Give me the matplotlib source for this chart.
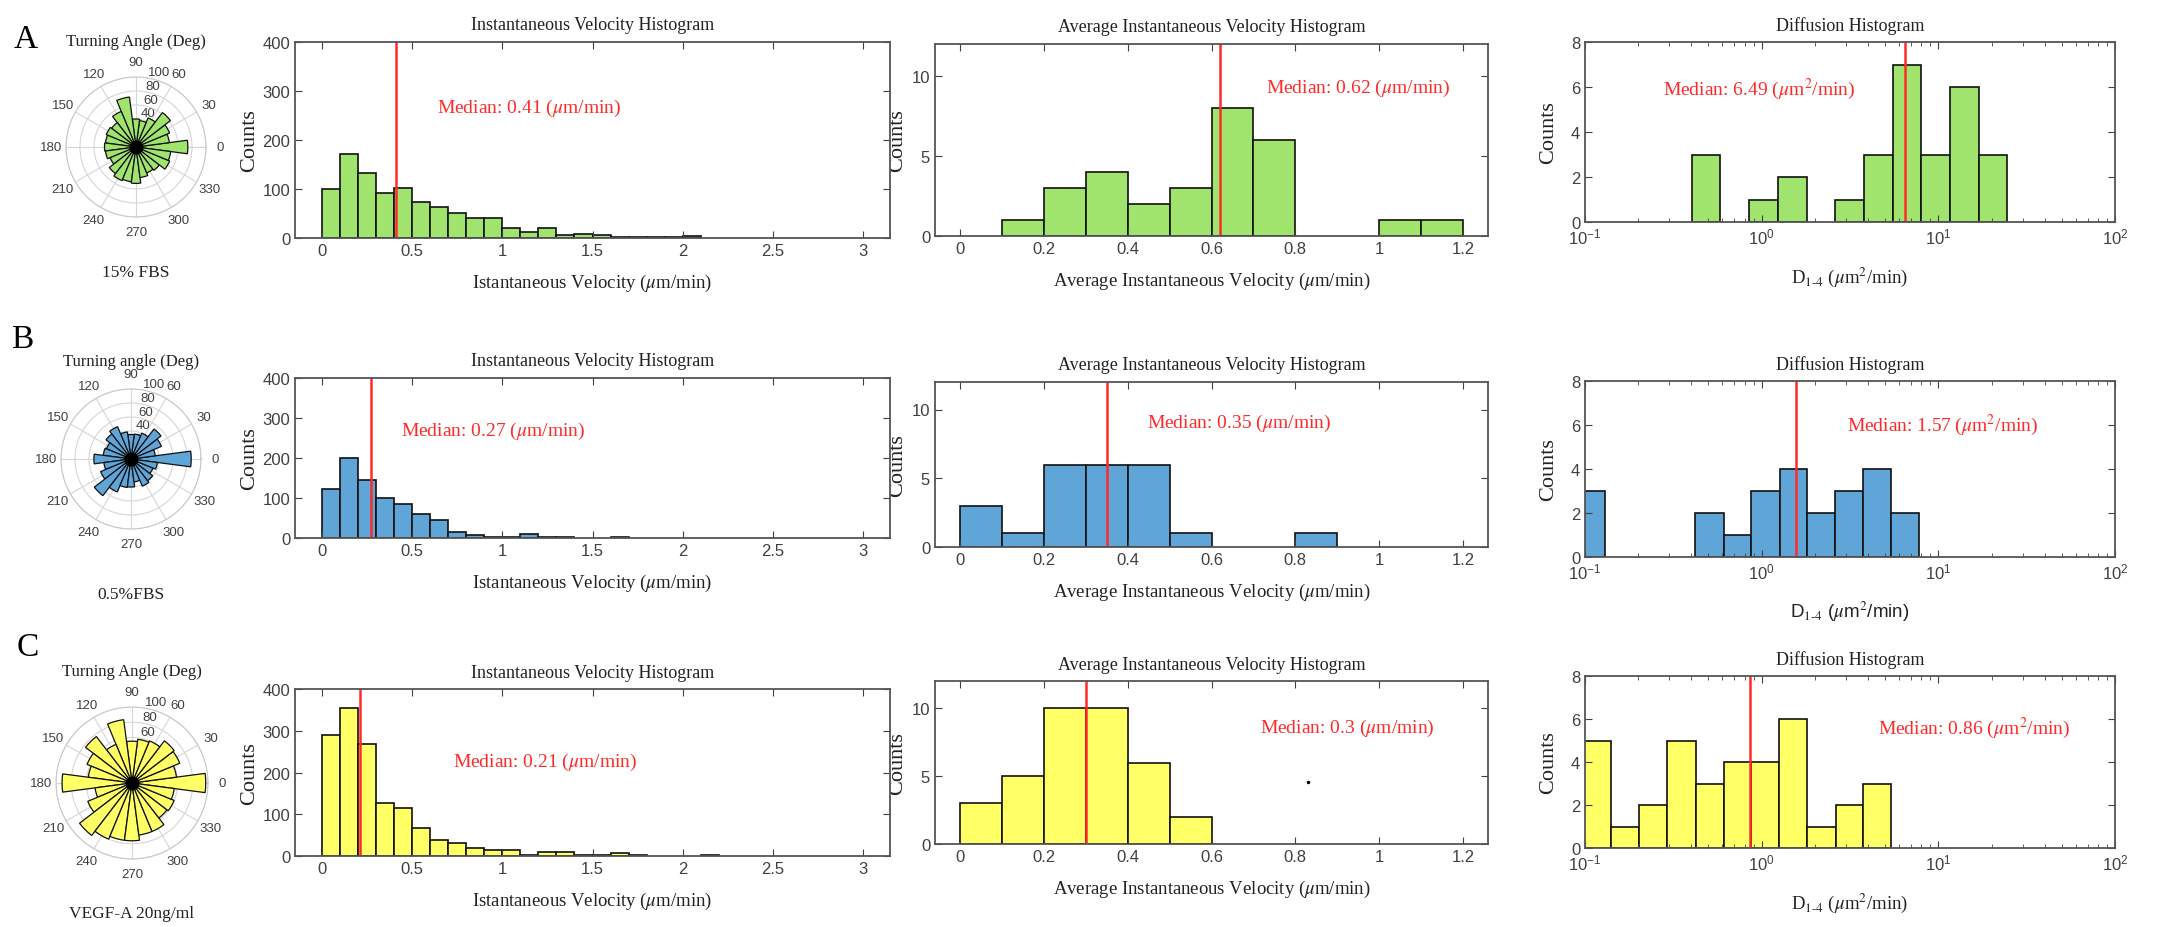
import numpy as np
import matplotlib.pyplot as plt
from matplotlib.transforms import offset_copy
from matplotlib.ticker import FormatStrFormatter

plt.rcParams['font.family'] = ['Liberation Serif', 'DejaVu Serif']
plt.rcParams['mathtext.fontset'] = 'stix'

# ---- data ----
turn_angles = [0, 15, 30, 45, 60, 75, 90, 105, 120, 135, 150, 165,
               180, 195, 210, 225, 240, 255, 270, 285, 300, 315, 330, 345]
turn_A = [74, 48, 52, 62, 45, 38, 40, 72, 55, 44, 46, 44,
          45, 44, 40, 48, 52, 50, 52, 44, 40, 42, 52, 50]
turn_B = [86, 35, 47, 54, 40, 36, 35, 39, 50, 45, 38, 40,
          53, 39, 47, 66, 51, 41, 40, 33, 42, 39, 34, 38]
turn_C = [97, 59, 68, 70, 60, 58, 55, 84, 55, 77, 64, 58,
          92, 49, 63, 87, 80, 76, 76, 69, 69, 58, 60, 56]

vel_edges = [0.0, 0.1, 0.2, 0.3, 0.4, 0.5, 0.6, 0.7, 0.8, 0.9, 1.0, 1.1,
             1.2, 1.3, 1.4, 1.5, 1.6, 1.7, 1.8, 1.9, 2.0, 2.1, 2.2]
vel_A = [100, 172, 133, 92, 102, 73, 64, 52, 40, 40, 21, 13,
         21, 6, 9, 6, 2, 2, 2, 2, 5, 0]
vel_B = [122, 199, 145, 101, 85, 59, 45, 16, 8, 3, 3, 11,
         2, 2, 0, 0, 2, 0, 0, 0, 0, 0]
vel_C = [289, 355, 269, 128, 116, 68, 38, 30, 20, 14, 14, 3,
         10, 10, 3, 3, 6, 3, 0, 0, 0, 3]

avg_edges = [0.0, 0.1, 0.2, 0.3, 0.4, 0.5, 0.6, 0.7, 0.8, 0.9, 1.0, 1.1, 1.2]
avg_A = [0, 1, 3, 4, 2, 3, 8, 6, 0, 0, 1, 1]
avg_B = [3, 1, 6, 6, 6, 1, 0, 0, 1, 0, 0, 0]
avg_C = [3, 5, 10, 10, 6, 2, 0, 0, 0, 0, 0, 0]

dif_edges_A = [0.402, 0.584, 0.849, 1.234, 1.795, 2.609, 3.793, 5.513,
               8.017, 11.65, 16.94, 24.63]
dif_A = [3, 0, 1, 2, 0, 1, 3, 7, 3, 6, 3]
dif_edges_B = [0.0984, 0.13, 0.2037, 0.2931, 0.4217, 0.6095, 0.873,
               1.262, 1.816, 2.600, 3.758, 5.408, 7.780]
dif_B = [3, 0, 0, 0, 2, 1, 3, 4, 2, 3, 4, 2]
dif_edges_C = [0.0977, 0.1409, 0.2028, 0.2924, 0.4227, 0.6095, 0.869,
               1.253, 1.816, 2.618, 3.758, 5.420]
dif_C = [5, 1, 2, 5, 3, 4, 4, 6, 1, 2, 3]

medians_vel = [0.41, 0.27, 0.21]
medians_avg = [0.62, 0.35, 0.3]
medians_dif = [6.49, 1.57, 0.86]

green = '#a0e46e'
blue = '#5fa5d8'
yellow = '#ffff66'
red = '#ff2a2a'
gray = '#404040'

W, H = 2165, 928
fig = plt.figure(figsize=(W / 100, H / 100), dpi=100)


def box(l, t, r, b):
    return [l / W, 1 - b / H, (r - l) / W, (b - t) / H]


def rose(cx, cy, r, lengths, color, title, sub, tag, tag_xy, title_y, sub_y):
    ax = fig.add_axes(box(cx - r, cy - r, cx + r, cy + r), projection='polar')
    ax.bar(np.deg2rad(turn_angles), lengths, width=np.deg2rad(15),
           color=color, edgecolor='#111111', linewidth=0.9, zorder=2)
    ax.set_ylim(0, 100)
    ax.set_rticks([20, 40, 60, 80, 100])
    ax.set_rlabel_position(80)
    ax.set_thetagrids(range(0, 360, 30), [str(a) for a in range(0, 360, 30)])
    ax.tick_params(labelsize=9.5, labelcolor=gray, labelfontfamily='Liberation Sans', pad=0)
    ax.grid(color='#d6d6d6', lw=0.8)
    ax.spines['polar'].set_color('#c8c8c8')
    ax.plot(0, 0, 'o', color='k', ms=9, zorder=3)
    fig.text(cx / W, 1 - title_y / H, title, ha='center', va='center', fontsize=12, color='#222222')
    fig.text(cx / W, 1 - sub_y / H, sub, ha='center', va='center', fontsize=12.5, color='#222222')
    fig.text(tag_xy[0] / W, 1 - tag_xy[1] / H, tag, ha='center', va='center', fontsize=24, color='k')


def hist(l, t, r, b, edges, counts, color, xlim, ylim, yticks, med, txt_xy, txt,
         title, xlabel, ylab_dx, logx=False, xlab_dy=44, xfont='Liberation Serif'):
    ax = fig.add_axes(box(l, t, r, b))
    e = np.array(edges)
    c = np.array(counts)
    keep = c > 0
    ax.bar(e[:-1][keep], c[keep], width=np.diff(e)[keep], align='edge',
           color=color, edgecolor='#111111', linewidth=1.2)
    if logx:
        ax.set_xscale('log')
    else:
        ax.xaxis.set_major_formatter(FormatStrFormatter('%g'))
    ax.set_xlim(xlim)
    ax.set_ylim(ylim)
    ax.set_yticks(yticks)
    ax.axvline(med, color=red, lw=1.8)
    ax.text(txt_xy[0], txt_xy[1], txt, color=red, fontsize=14, va='center', ha='left')
    ax.tick_params(which='both', direction='in', top=True, right=True, labelsize=12,
                   labelcolor=gray, color=gray, labelfontfamily='Liberation Sans')
    ax.tick_params(which='major', length=5)
    ax.tick_params(which='minor', length=3)
    for s in ax.spines.values():
        s.set_color('#555555')
        s.set_linewidth(1.3)
    tr_top = offset_copy(ax.transAxes, fig, x=0, y=17, units='dots')
    ax.text(0.5, 1, title, transform=tr_top, ha='center', va='center', fontsize=13, color='#222222')
    tr_bot = offset_copy(ax.transAxes, fig, x=0, y=-xlab_dy, units='dots')
    ax.text(0.5, 0, xlabel, transform=tr_bot, ha='center', va='center', fontsize=13.5,
            color='#222222', family=xfont)
    tr_left = offset_copy(ax.transAxes, fig, x=-ylab_dx, y=0, units='dots')
    ax.text(0, 0.5, 'Counts', transform=tr_left, ha='center', va='center', rotation=90,
            fontsize=16, color='#222222')
    return ax


# ---- polar (turning angle) ----
rose(136, 148, 70, turn_A, green, 'Turning Angle (Deg)', '15% FBS', 'A', (26, 40), 42, 273)
rose(131, 460, 70, turn_B, blue, 'Turning angle (Deg)', '0.5%FBS', 'B', (22, 340), 362, 595)
rose(132, 784, 76, turn_C, yellow, 'Turning Angle (Deg)', 'VEGF-A 20ng/ml', 'C', (28, 648), 672, 914)

# ---- histograms ----
rows = [(43, 239, 45, 237, 43, 223), (379, 539, 383, 548, 382, 558), (690, 857, 682, 845, 677, 849)]
vels = [vel_A, vel_B, vel_C]
avgs = [avg_A, avg_B, avg_C]
difs = [(dif_edges_A, dif_A), (dif_edges_B, dif_B), (dif_edges_C, dif_C)]
colors = [green, blue, yellow]
vel_txt = [(0.64, 266), (0.44, 268), (0.725, 226)]
avg_txt = [(0.73, 9.3), (0.447, 9.04), (0.715, 8.6)]
dif_txt = [(0.276, 5.92), (3.03, 6.04), (4.54, 5.59)]

for i in range(3):
    t1, b1, t2, b2, t3, b3 = rows[i]
    ax1 = hist(295, t1, 890, b1, vel_edges, vels[i], colors[i], (-0.15, 3.15), (0, 400),
               [0, 100, 200, 300, 400], medians_vel[i], vel_txt[i],
               'Median: %g ($\\mu$m/min)' % medians_vel[i],
               'Instantaneous Velocity Histogram', 'Istantaneous Velocity ($\\mu$m/min)', 45)
    ax1.set_zorder(2)  # panel covers the middle panel's clipped ylabel, as in the source
    ax2 = hist(935, t2, 1488, b2, avg_edges, avgs[i], colors[i], (-0.06, 1.26), (0, 12),
               [0, 5, 10], medians_avg[i], avg_txt[i],
               'Median: %g ($\\mu$m/min)' % medians_avg[i],
               'Average Instantaneous Velocity Histogram',
               'Average Instantaneous Velocity ($\\mu$m/min)', 37)
    ax2.set_xticks([0, 0.2, 0.4, 0.6, 0.8, 1, 1.2])
    hist(1585, t3, 2115, b3, difs[i][0], difs[i][1], colors[i], (0.1, 100), (0, 8),
         [0, 2, 4, 6, 8], medians_dif[i], dif_txt[i],
         'Median: %.2f ($\\mu$m$^2$/min)' % medians_dif[i],
         'Diffusion Histogram', 'D$_{\\mathrm{1\\text{-}4}}$ ($\\mu$m$^2$/min)', 36,
         logx=True, xlab_dy=54,
         xfont='Liberation Sans' if i == 1 else 'Liberation Serif')
    if i == 2:
        ax2.plot([0.83], [4.56], '.', color='k', ms=3)

fig.savefig('out.png', dpi=100)
